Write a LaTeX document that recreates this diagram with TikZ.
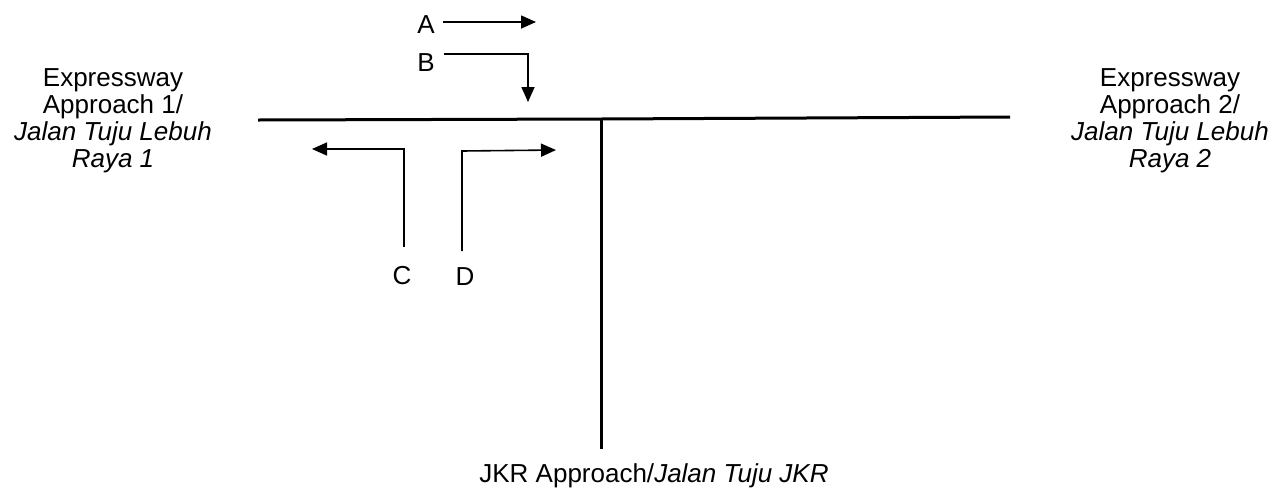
\documentclass[tikz,border=0pt]{standalone}
\usepackage{fontspec}
\setmainfont{Liberation Sans}
\usetikzlibrary{arrows.meta}
\begin{document}
\begin{tikzpicture}[x=1pt,y=-1pt,
  road/.style={line width=3pt},
  move/.style={line width=1.6pt,-{Triangle[length=15pt,width=13pt]}},
  lbl/.style={font=\fontsize{26}{27}\selectfont,inner sep=0pt,align=center}]
\useasboundingbox (0,0) rectangle (1280,491);
% roads
\coordinate (w) at (258,120);
\coordinate (j) at (601,119);
\coordinate (e) at (1010,117);
\coordinate (s) at (601,449);
\draw[road] (w) -- (j) -- (e);
\draw[road] (j) -- (s);
% approach labels
\node[lbl] (ap1) at (113,121) {Expressway\\Approach 1/\\\textit{Jalan Tuju Lebuh}\\\textit{Raya 1}};
\node[lbl] (ap2) at (1170,121) {Expressway\\Approach 2/\\\textit{Jalan Tuju Lebuh}\\\textit{Raya 2}};
\node[lbl] (ap3) at (654,476) {JKR Approach/\textit{Jalan Tuju JKR}};
% movement labels
\node[lbl] (A) at (426,25) {A};
\node[lbl] (B) at (426,63) {B};
\node[lbl] (C) at (402,276) {C};
\node[lbl] (D) at (465,277) {D};
% movement arrows
\coordinate (a0) at (443,22);
\coordinate (a1) at (536,22);
\draw[move] (a0) -- (a1);
\coordinate (b0) at (444,54);
\coordinate (b1) at (528,54);
\coordinate (b2) at (528,102);
\draw[move] (b0) -- (b1) -- (b2);
\coordinate (c0) at (404,247);
\coordinate (c1) at (404,149);
\coordinate (c2) at (312,149);
\draw[move] (c0) -- (c1) -- (c2);
\coordinate (d0) at (462,251);
\coordinate (d1) at (462,151);
\coordinate (d2) at (556,150);
\draw[move] (d0) -- (d1) -- (d2);
\end{tikzpicture}
\end{document}
